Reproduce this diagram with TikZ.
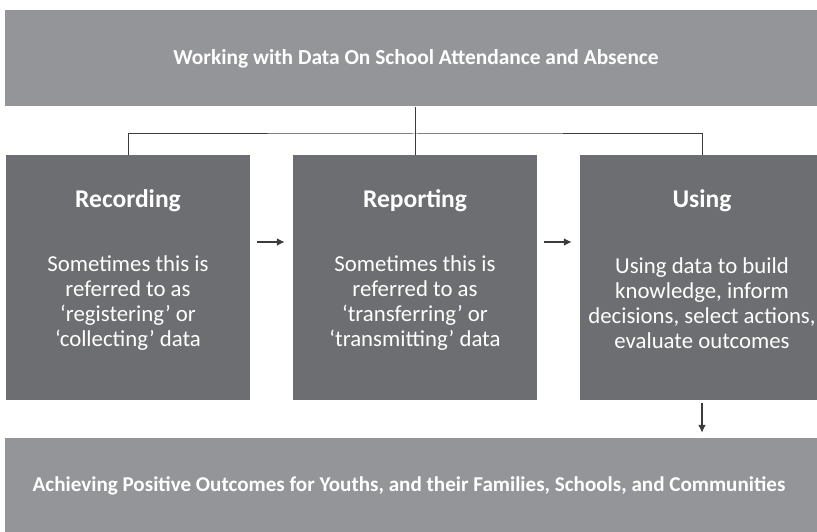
\documentclass[tikz,border=0pt]{standalone}
\usepackage{fontspec}
\setmainfont{Carlito}
\usetikzlibrary{arrows.meta}

\definecolor{barGray}{HTML}{939598}
\definecolor{stageGray}{HTML}{6D6E71}
\definecolor{linkGray}{HTML}{3C3C3E}

\begin{document}
\begin{tikzpicture}[x=1pt, y=-1pt,
    bar/.style={fill=barGray, minimum width=812pt, minimum height=96pt, inner sep=0pt},
    bartext/.style={text=white, font=\bfseries\fontsize{21.4}{24}\selectfont},
    stage/.style={fill=stageGray, minimum width=244pt, minimum height=245pt, inner sep=0pt},
    stagetitle/.style={text=white, font=\bfseries\fontsize{25.5}{28}\selectfont},
    stagebody/.style={text=white, align=center, font=\fontsize{22.8}{25}\selectfont},
    link/.style={draw=linkGray, line width=1pt},
    step arrow/.style={draw=linkGray, line width=2.4pt, -{Latex[length=8pt,width=8pt]}}]
    \useasboundingbox (0,0) rectangle (817,532);

    % top and bottom bars
    \node[bar] (work) at (411,58.5) {};
    \node[bartext] (worktext) at (416,58.5) {Working with Data On School Attendance and Absence};
    \node[bar] (outcome) at (411,486) {};
    \node[bartext, font=\bfseries\fontsize{21.1}{24}\selectfont] (outcometext) at (409,486) {Achieving Positive Outcomes for Youths, and their Families, Schools, and Communities};

    % the three stages
    \node[stage] (rec) at (128,277.5) {};
    \node[stage] (rep) at (415,277.5) {};
    \node[stage] (use) at (702,277.5) {};

    \node[stagetitle] (rectitle) at (128,201) {Recording};
    \node[stagetitle] (reptitle) at (415,201) {Reporting};
    \node[stagetitle] (usetitle) at (702,201) {Using};

    \node[stagebody] (recbody) at (128,303.5) {Sometimes this is\\referred to as\\‘registering’ or\\‘collecting’ data};
    \node[stagebody] (repbody) at (415,303.5) {Sometimes this is\\referred to as\\‘transferring’ or\\‘transmitting’ data};
    \node[stagebody] (usebody) at (702,303.5) {Using data to build\\knowledge, inform\\decisions, select actions,\\evaluate outcomes};

    % bracket from the top bar down to the stages
    \coordinate (split) at (415,134);
    \draw[link] (work.south -| split) -- (split);
    \draw[link] (rec.north) |- (split) -| (use.north);
    \draw[link] (split) -- (rep.north);

    % flow between the stages
    \draw[step arrow] ([xshift=7pt,yshift=35.5pt]rec.east) -- ([xshift=-8pt,yshift=35.5pt]rep.west);
    \draw[step arrow] ([xshift=7pt,yshift=35.5pt]rep.east) -- ([xshift=-8pt,yshift=35.5pt]use.west);
    \draw[step arrow] ([yshift=-3pt]use.south) -- ([yshift=5pt]outcome.north -| use.south);
\end{tikzpicture}
\end{document}
